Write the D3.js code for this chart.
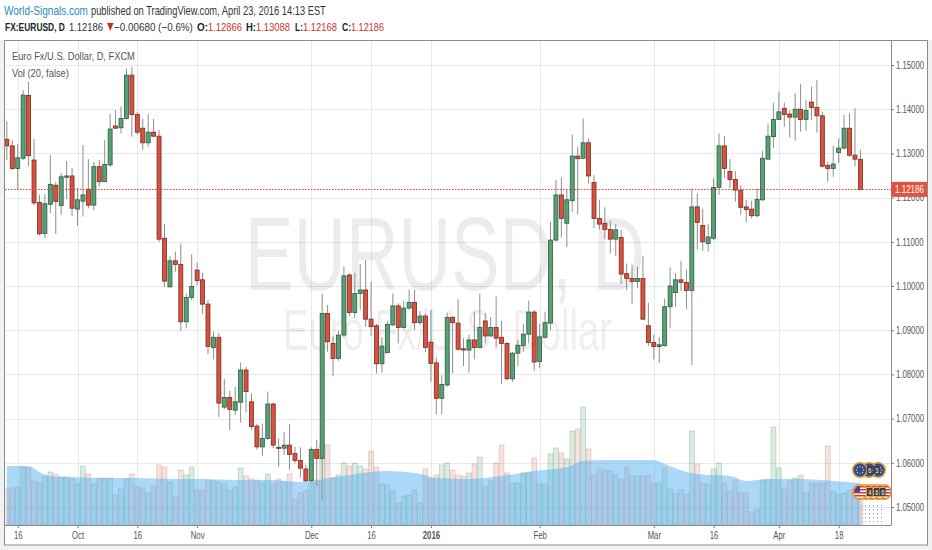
<!DOCTYPE html>
<html><head><meta charset="utf-8">
<script src="https://cdn.jsdelivr.net/npm/d3@7"></script>
<style>
html,body{margin:0;padding:0;background:#eff1f3;}
svg{display:block;font-family:"Liberation Sans",Arial,sans-serif;}
</style></head><body>
<svg id="c" width="932" height="550"></svg>
<script>
// ---------- DATA ----------
const tickIdx    = [2, 13, 24, 35, 56, 67, 78, 98, 119, 130, 142, 153];
const tickLabels = ["16","Oct","16","Nov","Dec","16","2016","Feb","Mar","16","Apr","18"];
const priceTicks = [1.05,1.06,1.07,1.08,1.09,1.10,1.11,1.12,1.13,1.14,1.15];

const open = [
1.1332,1.1317,1.1266,1.1289,1.1431,1.1285,1.1189,1.1119,1.1185,1.1228,
1.1182,1.1246,1.1249,1.1174,1.1192,1.1219,1.1183,1.1270,1.1236,1.1274,
1.1362,1.1358,1.1379,1.1477,1.1388,1.1357,1.1324,1.1348,1.1339,1.1108,
1.0998,1.1057,1.1049,1.0919,1.0974,1.1036,1.1014,1.0959,1.0861,1.0884,
1.0726,1.0748,1.0719,1.0737,1.0810,1.0738,1.0683,1.0636,1.0655,1.0733,
1.0635,1.0633,1.0640,1.0621,1.0605,1.0586,1.0559,1.0630,1.0610,1.0938,
1.0870,1.0836,1.0889,1.1025,1.0940,1.0983,1.0991,1.0925,1.0910,1.0824,
1.0849,1.0912,1.0955,1.0906,1.0950,1.0963,1.0917,1.0932,1.0873,1.0826,
1.0746,1.0776,1.0929,1.0916,1.0858,1.0855,1.0878,1.0861,1.0921,1.0887,
1.0906,1.0884,1.0870,1.0790,1.0848,1.0865,1.0891,1.0941,1.0829,1.0884,
1.0916,1.1104,1.1206,1.1142,1.1193,1.1294,1.1289,1.1324,1.1234,1.1153,
1.1142,1.1128,1.1106,1.1110,1.1028,1.1017,1.1010,1.1017,1.0910,1.0872,
1.0863,1.0865,1.0953,1.0985,1.1014,1.1008,1.0990,1.1179,1.1137,1.1096,
1.1108,1.1223,1.1317,1.1259,1.1241,1.1217,1.1179,1.1174,1.1159,1.1195,
1.1287,1.1338,1.1377,1.1402,1.1389,1.1382,1.1400,1.1377,1.1416,1.1404,
1.1385,1.1273,1.1266,1.1302,1.1312,1.1357,1.1296,1.12866];
const high = [
1.1373,1.1330,1.1321,1.1443,1.1462,1.1333,1.1206,1.1208,1.1296,1.1236,
1.1256,1.1283,1.1267,1.1222,1.1319,1.1287,1.1281,1.1285,1.1330,1.1389,
1.1398,1.1406,1.1492,1.1496,1.1394,1.1379,1.1389,1.1378,1.1353,1.1140,
1.1068,1.1078,1.1096,1.0983,1.1072,1.1053,1.1030,1.0968,1.0897,1.0894,
1.0789,1.0763,1.0772,1.0827,1.0817,1.0757,1.0688,1.0689,1.0761,1.0736,
1.0655,1.0670,1.0688,1.0636,1.0635,1.0595,1.0635,1.0652,1.0982,1.0957,
1.0886,1.0899,1.1044,1.1029,1.1030,1.1050,1.1059,1.1010,1.0914,1.0884,
1.0921,1.0983,1.0961,1.0967,1.0992,1.0992,1.0943,1.0938,1.0946,1.0838,
1.0798,1.0940,1.0932,1.0970,1.0882,1.0889,1.0942,1.0983,1.0938,1.0930,
1.0976,1.0921,1.0874,1.0851,1.0878,1.0914,1.0967,1.0946,1.0914,1.0942,
1.1145,1.1240,1.1246,1.1219,1.1342,1.1315,1.1379,1.1334,1.1251,1.1195,
1.1178,1.1148,1.1140,1.1127,1.1051,1.1048,1.1044,1.1068,1.0962,1.0889,
1.0884,1.0972,1.1042,1.1029,1.1057,1.1038,1.1221,1.1210,1.1175,1.1140,
1.1244,1.1345,1.1339,1.1287,1.1260,1.1228,1.1195,1.1193,1.1221,1.1306,
1.1368,1.1415,1.1440,1.1415,1.1398,1.1436,1.1457,1.1421,1.1451,1.1466,
1.1394,1.1281,1.1317,1.1334,1.1387,1.1391,1.1402,1.13088];
const low = [
1.1285,1.1262,1.1217,1.1285,1.1271,1.1183,1.1115,1.1109,1.1165,1.1118,
1.1161,1.1197,1.1158,1.1136,1.1157,1.1176,1.1172,1.1225,1.1235,1.1270,
1.1356,1.1345,1.1377,1.1338,1.1342,1.1308,1.1315,1.1336,1.1100,1.0998,
1.0997,1.1032,1.0898,1.0904,1.0968,1.1002,1.0937,1.0846,1.0834,1.0704,
1.0721,1.0674,1.0708,1.0691,1.0714,1.0674,1.0630,1.0615,1.0652,1.0633,
1.0591,1.0618,1.0584,1.0599,1.0567,1.0557,1.0557,1.0548,1.0514,1.0851,
1.0796,1.0831,1.0884,1.0931,1.0927,1.0946,1.0907,1.0887,1.0802,1.0804,
1.0848,1.0909,1.0870,1.0904,1.0946,1.0900,1.0912,1.0851,1.0783,1.0710,
1.0710,1.0772,1.0802,1.0854,1.0819,1.0804,1.0834,1.0859,1.0870,1.0886,
1.0863,1.0778,1.0787,1.0783,1.0819,1.0851,1.0870,1.0808,1.0814,1.0881,
1.0900,1.1100,1.1110,1.1088,1.1168,1.1163,1.1287,1.1232,1.1131,1.1128,
1.1106,1.1074,1.1068,1.1005,1.0991,1.0959,1.0995,1.0923,1.0864,1.0834,
1.0826,1.0863,1.0904,1.0953,1.0989,1.0947,1.0821,1.1083,1.1080,1.1078,
1.1104,1.1206,1.1244,1.1221,1.1191,1.1161,1.1145,1.1153,1.1155,1.1193,
1.1285,1.1312,1.1376,1.1360,1.1336,1.1329,1.1349,1.1351,1.1376,1.1347,
1.1268,1.1236,1.1247,1.1278,1.1309,1.1292,1.1271,1.12168];
const close = [
1.1317,1.1266,1.1290,1.1432,1.1295,1.1188,1.1118,1.1186,1.1230,1.1191,
1.1247,1.1249,1.1176,1.1195,1.1206,1.1183,1.1270,1.1236,1.1275,1.1355,
1.1357,1.1379,1.1477,1.1388,1.1348,1.1324,1.1348,1.1339,1.1106,1.1011,
1.1057,1.1049,1.0919,1.0974,1.0999,1.1012,1.0959,1.0863,1.0884,1.0735,
1.0748,1.0721,1.0738,1.0810,1.0761,1.0682,1.0636,1.0655,1.0733,1.0640,
1.0633,1.0640,1.0619,1.0605,1.0588,1.0559,1.0630,1.0610,1.0938,1.0874,
1.0836,1.0889,1.1023,1.0940,1.0983,1.0991,1.0925,1.0908,1.0824,1.0864,
1.0913,1.0955,1.0906,1.0950,1.0963,1.0917,1.0932,1.0861,1.0825,1.0746,
1.0777,1.0929,1.0917,1.0857,1.0855,1.0878,1.0861,1.0906,1.0887,1.0906,
1.0882,1.0870,1.0790,1.0848,1.0866,1.0891,1.0941,1.0828,1.0885,1.0917,
1.1104,1.1206,1.1153,1.1195,1.1294,1.1288,1.1324,1.1249,1.1153,1.1140,
1.1128,1.1106,1.1127,1.1027,1.1017,1.1010,1.1017,1.0925,1.0872,1.0863,
1.0867,1.0953,1.1000,1.1014,1.1008,1.0990,1.1179,1.1144,1.1100,1.1111,
1.1223,1.1317,1.1266,1.1241,1.1217,1.1178,1.1173,1.1159,1.1196,1.1289,
1.1339,1.1377,1.1394,1.1388,1.1382,1.1400,1.1377,1.1397,1.1404,1.1385,
1.1271,1.1266,1.1276,1.1312,1.1357,1.1296,1.1287,1.12186];
// volume (thousands)
const volume = [
37,37,38,58,57,44,43,49,53,51,
48,48,46,41,59,51,41,47,47,47,
30,37,46,51,38,37,32,39,60,58,
43,29,55,50,58,35,35,45,44,43,
41,35,38,57,49,46,45,42,51,41,
46,43,51,26,32,35,42,45,81,80,
47,50,62,59,62,59,56,74,58,41,
40,34,22,29,30,35,22,56,46,50,
60,62,55,50,49,52,61,68,39,44,
62,80,52,42,42,52,52,67,41,41,
71,77,72,66,94,96,118,76,50,56,
55,54,51,46,58,49,49,49,50,42,
42,57,36,32,35,31,94,61,42,41,
56,62,42,34,45,32,32,13,16,45,
45,98,57,37,45,47,50,32,42,42,
42,79,34,31,32,35,34,36];
// Vol MA(20) read at sample bars
const maIdx = [0,4,6,8,12,18,24,30,36,42,48,55,57,59,62,67,70,76,79,85,91,97,103,106,110,119,121,125,127,133,136,140,146,152,157];
const maVal = [59,59,53,49,48,47,47,46,46,45,45,43,44,47,49,53,54,51,47,46,49,54,58,64,65,65,61,53,51,49,44,46,46,44,42];

const lastPrice = 1.12186;

// ---------- CHART ----------
const svg = d3.select("#c");
const pane = {l:5, t:41, r:891, b:525};
const x  = d3.scaleLinear().domain([0,157]).range([6.83,860.4]);
const y  = d3.scaleLinear().domain([1.05,1.15]).range([507,65]);
const yv = d3.scaleLinear().domain([0,130]).range([525,395]);

// text placed at (tx,ty) and squeezed horizontally to a given width
function label(parent, tx, ty, str, width, size, fill, weight, anchor){
  const t = parent.append("text").text(str).attr("font-size",size).attr("fill",fill)
    .attr("font-weight",weight||"normal").attr("text-anchor",anchor||"start");
  const w = t.node().getComputedTextLength();
  t.attr("transform",`translate(${tx},${ty}) scale(${width/w},1)`);
  return t;
}

// backgrounds
svg.append("rect").attr("x",0).attr("y",0).attr("width",932).attr("height",40).attr("fill","#fff");
svg.append("rect").attr("x",4.5).attr("y",40.5).attr("width",923).attr("height",504.5)
  .attr("fill","#fff").attr("stroke","#8c8c8c").attr("stroke-width",1);

const defs = svg.append("defs");
defs.append("clipPath").attr("id","paneClip").append("rect")
  .attr("x",pane.l).attr("y",pane.t).attr("width",pane.r-pane.l).attr("height",pane.b-pane.t);
const dp = defs.append("pattern").attr("id","dots").attr("width",4).attr("height",4).attr("patternUnits","userSpaceOnUse");
dp.append("rect").attr("x",1).attr("y",1).attr("width",1).attr("height",1.2).attr("fill","#9a9a9a");
const us = defs.append("pattern").attr("id","usf").attr("width",16).attr("height",3).attr("patternUnits","userSpaceOnUse");
us.append("rect").attr("width",16).attr("height",3).attr("fill","#fff");
us.append("rect").attr("width",16).attr("height",1.5).attr("fill","#d8322f");

const g = svg.append("g").attr("clip-path","url(#paneClip)");

// grid
g.selectAll("line.hg").data(priceTicks).join("line").attr("class","hg")
  .attr("x1",pane.l).attr("x2",pane.r).attr("y1",d=>Math.round(y(d))+0.5).attr("y2",d=>Math.round(y(d))+0.5)
  .attr("stroke","#e9e9e9");
g.selectAll("line.vg").data(tickIdx).join("line").attr("class","vg")
  .attr("y1",pane.t).attr("y2",pane.b).attr("x1",d=>Math.round(x(d))+0.5).attr("x2",d=>Math.round(x(d))+0.5)
  .attr("stroke","#e9e9e9");

// watermark
label(g, 245, 290, "EURUSD, D", 400, 104, "rgba(0,0,0,0.075)");
label(g, 283, 350, "Euro Fx/U.S. Dollar", 329, 58, "rgba(0,0,0,0.075)");

// volume bars
const idx = d3.range(open.length);
const isUp = i => close[i] >= open[i];
g.selectAll("rect.vol").data(idx).join("rect").attr("class","vol")
  .attr("x",i=>x(i)-2.4).attr("width",4.8)
  .attr("y",i=>yv(volume[i])).attr("height",i=>yv(0)-yv(volume[i]))
  .attr("fill",i=>isUp(i)?"rgba(100,170,125,0.22)":"rgba(210,110,95,0.2)")
  .attr("stroke",i=>isUp(i)?"rgba(80,150,105,0.35)":"rgba(190,100,90,0.3)").attr("stroke-width",0.8);
// volume MA area
const area = d3.area().x((d,k)=>x(maIdx[k])).y0(yv(0)).y1(d=>yv(d)).curve(d3.curveMonotoneX);
g.append("path").datum(maVal).attr("d",area).attr("fill","rgba(90,178,242,0.5)");

// candles
const wickColor = "#8e8e8e";
g.selectAll("line.wick").data(idx).join("line").attr("class","wick")
  .attr("x1",i=>x(i)).attr("x2",i=>x(i)).attr("y1",i=>y(high[i])).attr("y2",i=>y(low[i]))
  .attr("stroke",wickColor).attr("stroke-width",1);
g.selectAll("rect.body").data(idx).join("rect").attr("class","body")
  .attr("x",i=>x(i)-2).attr("width",4)
  .attr("y",i=>y(Math.max(open[i],close[i])))
  .attr("height",i=>Math.max(1,Math.abs(y(open[i])-y(close[i]))))
  .attr("fill",i=>isUp(i)?"#58a075":"#d8533f")
  .attr("stroke",i=>isUp(i)?"#2e5c40":"#7a2a1e").attr("stroke-width",0.8);

// last price line
const lpy = Math.round(y(lastPrice))+0.5;
g.append("line").attr("x1",pane.l).attr("x2",pane.r).attr("y1",lpy).attr("y2",lpy)
  .attr("stroke","#e0402a").attr("stroke-width",1).attr("stroke-dasharray","1.5,1.5");

// event markers (bottom right)
const ev = svg.append("g");
ev.append("rect").attr("x",859).attr("y",502).attr("width",26).attr("height",22).attr("fill","url(#dots)");
[878,869,860].forEach(cx=>{
  ev.append("circle").attr("cx",cx).attr("cy",470).attr("r",7.2).attr("fill","#2b4b9b").attr("stroke","#e49a2b").attr("stroke-width",1.6);
  d3.range(8).forEach(k=>{const a=k*Math.PI/4; ev.append("circle").attr("cx",cx+3.6*Math.cos(a)).attr("cy",470+3.6*Math.sin(a)).attr("r",0.7).attr("fill","#f3d34a");});
});
[884,878,872,866,860].forEach(cx=>{
  ev.append("circle").attr("cx",cx).attr("cy",492).attr("r",7.2).attr("fill","url(#usf)").attr("stroke","#e49a2b").attr("stroke-width",1.6);
  ev.append("path").attr("d",`M${cx-6},492 A6,6 0 0 1 ${cx},486 L${cx},492 Z`).attr("fill","#2b4b9b");
});
[[867,466,"6"],[874,466,"3"],[867,488,"4"],[874,488,"6"],[880,488,"6"]].forEach(([bx,by,t])=>{
  ev.append("rect").attr("x",bx).attr("y",by).attr("width",5.5).attr("height",8).attr("fill","#3d3d3d");
  label(ev, bx+2.75, by+6.6, t, 3.2, 7, "#fff", "normal", "middle");
});

// axes
const pa = svg.append("g").attr("transform",`translate(${pane.r},0)`)
  .call(d3.axisRight(y).tickValues(priceTicks).tickFormat(d=>d.toFixed(5)).tickSize(3).tickPadding(2));
pa.select(".domain").remove();
pa.selectAll(".tick line").attr("stroke","#777");
pa.selectAll(".tick text").attr("font-size",10.5).attr("fill","#555")
  .attr("x",5/0.74).attr("transform","scale(0.74,1)");

const ta = svg.append("g").attr("transform",`translate(0,${pane.b})`)
  .call(d3.axisBottom(x).tickValues(tickIdx).tickFormat((d,i)=>tickLabels[i]).tickSize(3).tickPadding(4));
ta.select(".domain").remove();
ta.selectAll(".tick line").attr("stroke","#777");
ta.selectAll(".tick text").attr("font-size",10.5).attr("fill","#555")
  .attr("font-weight",(d,i)=>tickLabels[i]==="2016"?"bold":"normal").attr("transform","scale(0.74,1)");

// separators
svg.append("line").attr("x1",pane.r+0.5).attr("x2",pane.r+0.5).attr("y1",40.5).attr("y2",pane.b).attr("stroke","#8c8c8c");
svg.append("line").attr("x1",4.5).attr("x2",pane.r+0.5).attr("y1",pane.b+0.5).attr("y2",pane.b+0.5).attr("stroke","#8c8c8c");

// last price label
const ly = y(lastPrice);
svg.append("rect").attr("x",pane.r+0.5).attr("y",ly-7.5).attr("width",35.5).attr("height",15).attr("fill","#e0533c");
label(svg, pane.r+4, ly+4, lastPrice.toFixed(5), 29, 10.5, "#fff");

// legend
label(svg, 12, 60, "Euro Fx/U.S. Dollar, D, FXCM", 123, 11, "#555");
label(svg, 12, 76.5, "Vol (20, false)", 57, 11, "#555");

// header line 1
label(svg, 4, 14.5, "World-Signals.com", 84, 12, "#2a8bc6");
label(svg, 91, 14.5, "published on TradingView.com, April 23, 2016 14:13 EST", 235, 12, "#333");
// header line 2
const red = "#c9342b";
const h2 = [
  [5,"FX:EURUSD, D",60,"#222","bold"],
  [69,"1.12186",34,"#333","normal"],
  [114,"\u22120.00680 (\u22120.6%)",79,"#333","normal"],
  [197,"O:",11,"#222","bold"],[208,"1.12866",34,red,"normal"],
  [246,"H:",10,"#222","bold"],[256,"1.13088",34,red,"normal"],
  [295,"L:",8,"#222","bold"],[303,"1.12168",34,red,"normal"],
  [342,"C:",9,"#222","bold"],[351,"1.12186",33,red,"normal"]];
h2.forEach(([tx,t,w,c,fw])=>label(svg, tx, 30.5, t, w, 11.5, c, fw));
svg.append("path").attr("d","M107,23 L113.5,23 L110.25,31 Z").attr("fill","#d22c22");
</script>
</body></html>
